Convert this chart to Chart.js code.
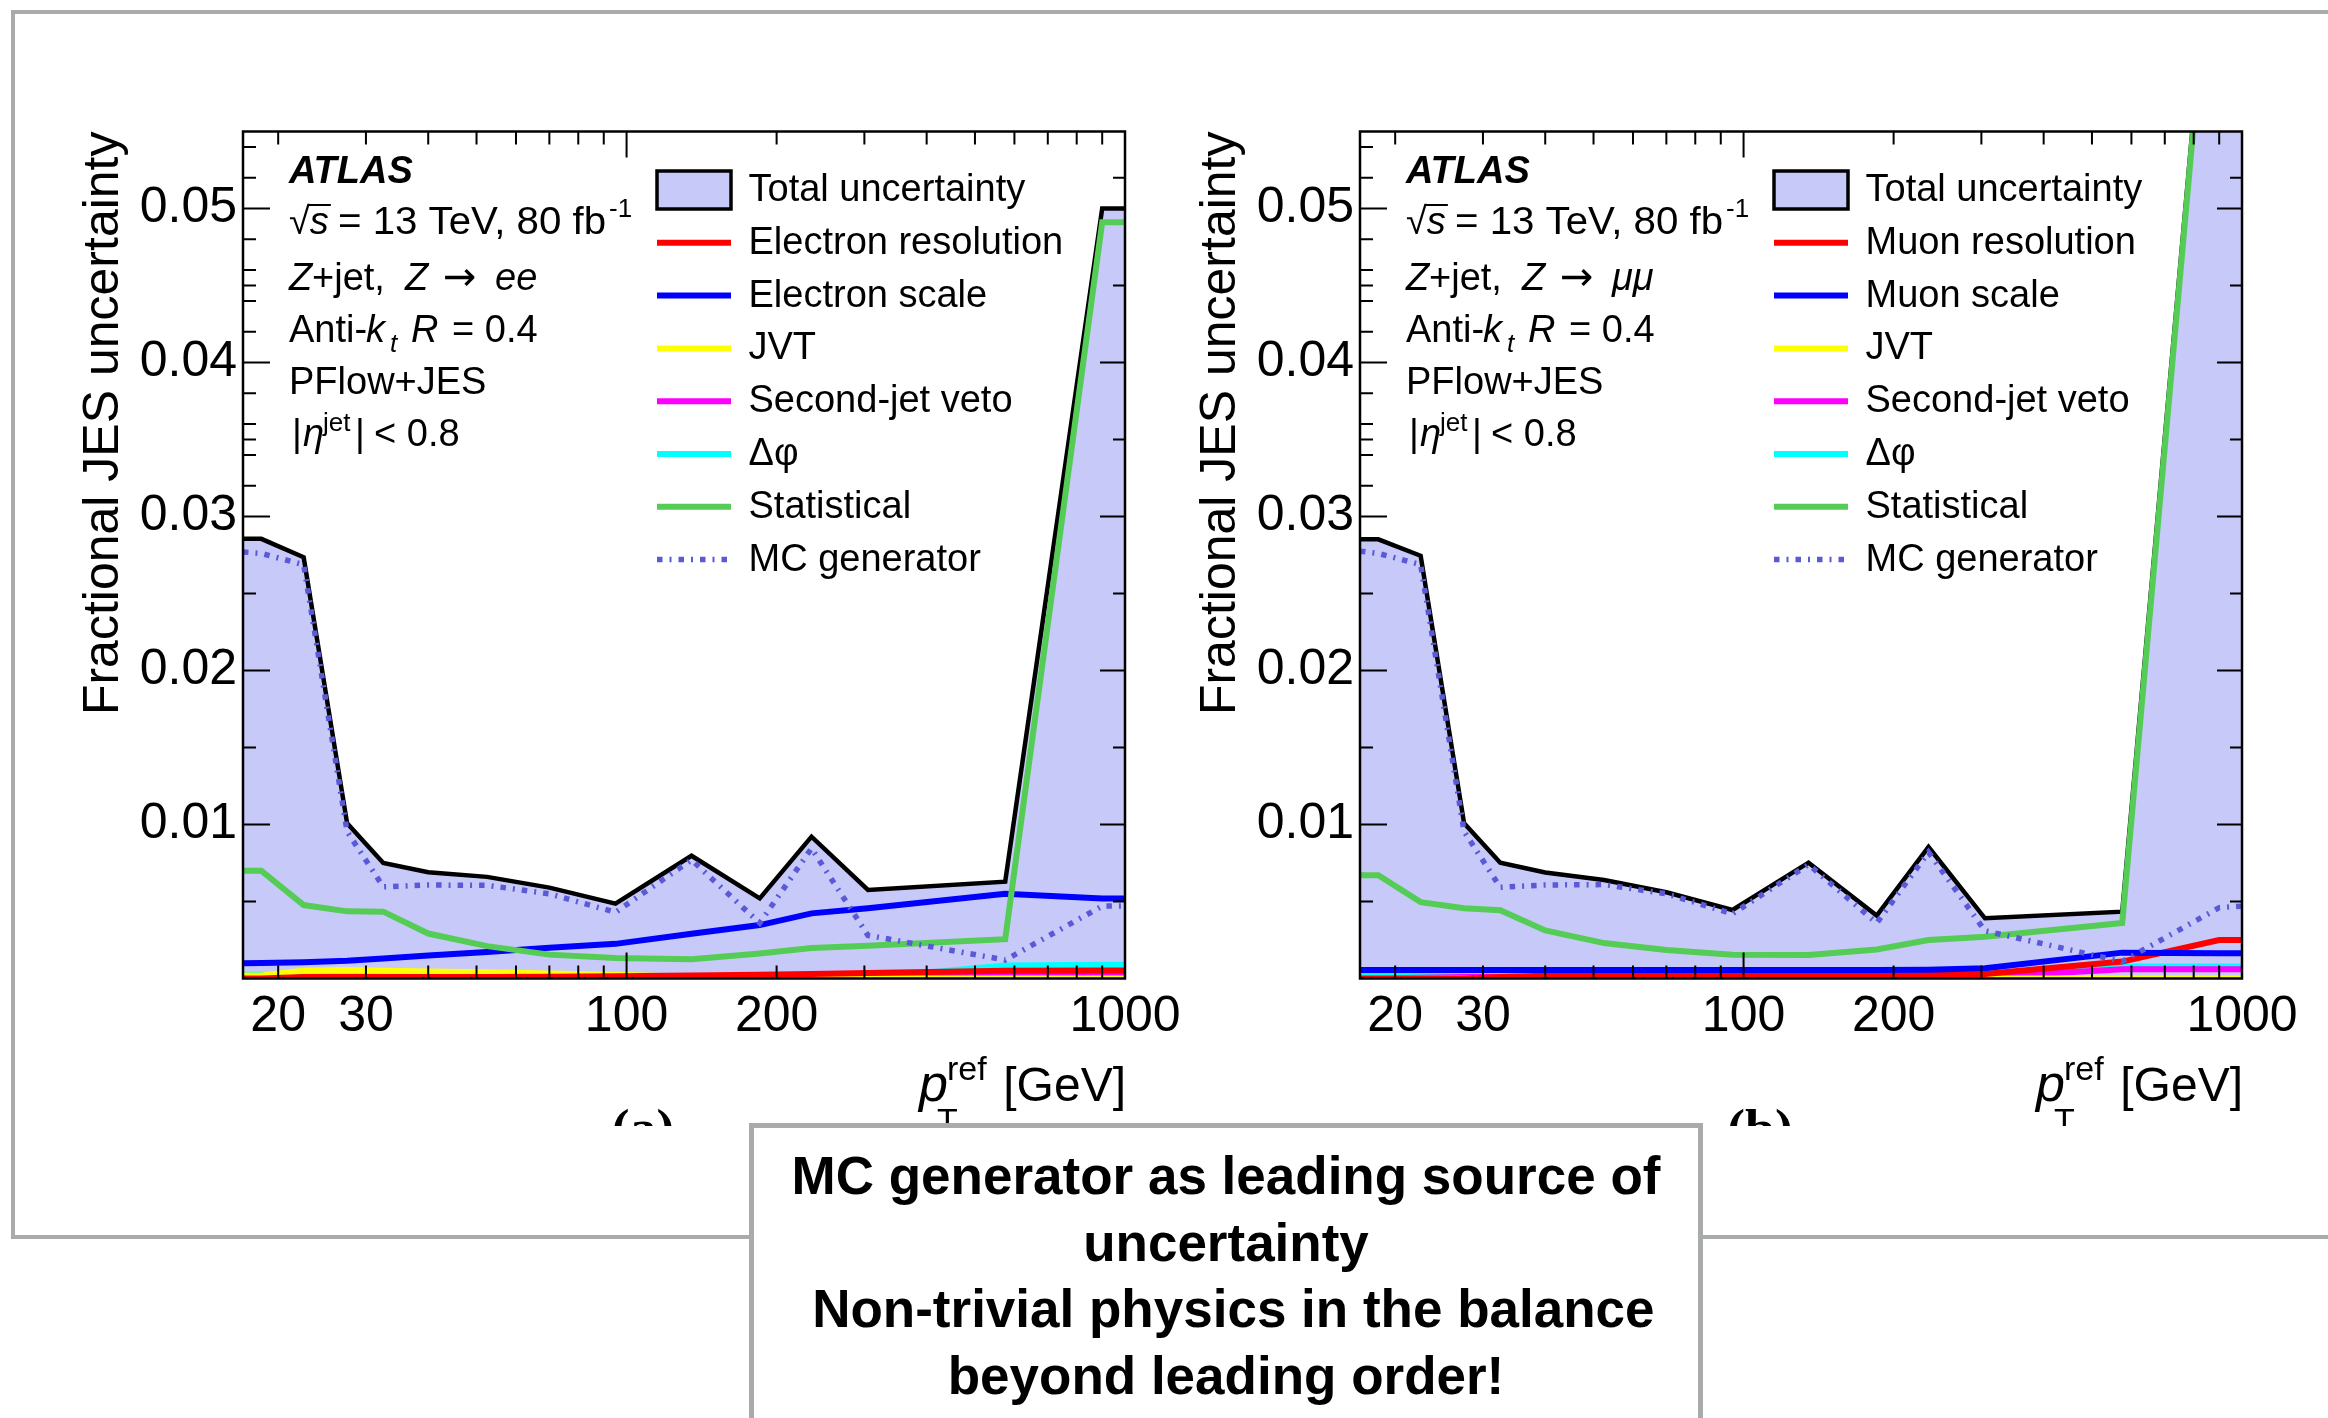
<!DOCTYPE html>
<html>
<head>
<meta charset="utf-8">
<script src="https://cdn.jsdelivr.net/npm/chart.js@4.4.1/dist/chart.umd.min.js"></script>
<style>
  body { margin: 0; width: 2328px; height: 1418px; background: #fff; position: relative; overflow: hidden;
         font-family: "Liberation Sans", Arial, sans-serif; }
  #frame { position: absolute; left: 11px; top: 10px; width: 2400px; height: 1229px;
           box-sizing: border-box; border: 4.5px solid #a9abaa; }
  canvas { position: absolute; top: 0; }
  #panelA { left: 0; }
  #panelB { left: 1117px; }
  #note { position: absolute; left: 749px; top: 1123px; width: 954px; height: 400px; box-sizing: border-box;
          border: 5px solid #a9abaa; background: #fff; text-align: center; font-weight: bold;
          font-size: 53px; line-height: 66.7px; padding-top: 15px; white-space: nowrap; color: #000; }
</style>
</head>
<body>
<div id="frame"></div>
<canvas id="panelA" width="1200" height="1126"></canvas>
<canvas id="panelB" width="1211" height="1126"></canvas>
<div id="note">MC generator as leading source of<br>uncertainty<br>&nbsp;Non-trivial physics in the balance<br>beyond leading order!</div>
<script>
// pT reference points (GeV): bin centres plus the axis edges
const ptPoints = [17, 18.5, 22.5, 27.5, 32.5, 40, 52.5, 70, 95, 135, 185, 235, 305, 575, 900, 1000];

// Z -> ee
const eeTotal      = [0.02855, 0.02855, 0.02735, 0.01008, 0.0075, 0.0069, 0.0066, 0.0059, 0.00486, 0.00797, 0.0052, 0.00921, 0.00575, 0.00629, 0.0500, 0.0500];
const eeResolution = [0, 0, 0.0001, 0.0001, 0.0001, 0.0001, 0.0001, 0.00012, 0.00015, 0.0002, 0.00025, 0.0003, 0.00035, 0.0005, 0.00052, 0.00052];
const eeScale      = [0.00099, 0.001, 0.00105, 0.00115, 0.0013, 0.0015, 0.00172, 0.002, 0.00225, 0.0029, 0.00347, 0.00423, 0.00456, 0.0055, 0.0052, 0.0052];
const eeJvt        = [0.0002, 0.0002, 0.0005, 0.00055, 0.0005, 0.00045, 0.0004, 0.00033, 0.00025, 0.00012, 0.00008, 0.00005, 0, 0, 0, 0];
const eeVeto       = [0, 0, 0, 0, 0, 0, 0, 0, 0.00005, 0.0001, 0.00012, 0.00014, 0.00015, 0.00025, 0.00025, 0.00025];
const eeDphi       = [0.00025, 0.00025, 0.0001, 0, 0, 0, 0, 0, 0, 0, 0, 0, 0.00003, 0.00085, 0.0009, 0.0009];
const eeStat       = [0.0070, 0.0070, 0.00477, 0.00436, 0.00434, 0.00292, 0.0021, 0.00155, 0.00133, 0.00125, 0.00163, 0.00198, 0.00212, 0.00255, 0.0491, 0.0491];
const eeMcGen      = [0.0277, 0.0276, 0.02687, 0.00954, 0.00595, 0.00607, 0.00605, 0.0055, 0.0043, 0.0077, 0.0036, 0.00845, 0.0028, 0.0012, 0.0047, 0.0047];

// Z -> mumu
const mmTotal      = [0.02852, 0.02852, 0.02745, 0.01008, 0.00752, 0.00688, 0.0064, 0.0056, 0.00445, 0.00752, 0.00409, 0.00854, 0.00391, 0.00434, 0.0745, 0.0745];
const mmResolution = [0, 0, 0, 0, 0.0001, 0.00018, 0.0002, 0.0002, 0.0002, 0.0002, 0.0002, 0.00022, 0.0003, 0.0011, 0.0025, 0.0025];
const mmScale      = [0.00055, 0.00055, 0.00055, 0.00055, 0.00055, 0.00055, 0.00055, 0.00055, 0.00055, 0.00055, 0.00055, 0.00057, 0.00066, 0.00168, 0.00164, 0.00164];
const mmJvt        = [0, 0, 0, 0, 0, 0, 0, 0, 0, 0, 0, 0, 0, 0, 0, 0];
const mmVeto       = [0, 0, 0.00005, 0.0001, 0.0001, 0.0001, 0.0001, 0.0001, 0.0001, 0.0001, 0.0001, 0.0001, 0.0001, 0.0006, 0.0006, 0.0006];
const mmDphi       = [0.00027, 0.00027, 0.00027, 0.00027, 0.00024, 0, 0, 0, 0, 0, 0, 0.00018, 0.0003, 0.00078, 0.00078, 0.00078];
const mmStat       = [0.0067, 0.0067, 0.00496, 0.00456, 0.00443, 0.00312, 0.0023, 0.00185, 0.00155, 0.00152, 0.00188, 0.0025, 0.00271, 0.0036, 0.0740, 0.0740];
const mmMcGen      = [0.02775, 0.0276, 0.02687, 0.00954, 0.00592, 0.00607, 0.0061, 0.0055, 0.0042, 0.0074, 0.0036, 0.0082, 0.0031, 0.0011, 0.0046, 0.0047];

const eeLabels = ['Total uncertainty', 'Electron resolution', 'Electron scale', 'JVT', 'Second-jet veto', 'Δφ', 'Statistical', 'MC generator'];
const mmLabels = ['Total uncertainty', 'Muon resolution', 'Muon scale', 'JVT', 'Second-jet veto', 'Δφ', 'Statistical', 'MC generator'];

// axis ticks
const xLabelTicks = [20, 30, 100, 200, 1000];
const xMinorTicks = [20, 30, 40, 50, 60, 70, 80, 90, 200, 300, 400, 500, 600, 700, 800, 900];
const xMajorTicks = [100];
const yLabelTicks = [0.01, 0.02, 0.03, 0.04, 0.05];
const yMinorLeft  = [0.005, 0.015, 0.025, 0.032, 0.034, 0.035, 0.036, 0.038, 0.042, 0.044, 0.045, 0.046, 0.048, 0.052, 0.054];
const yMinorRight = [0.005, 0.015, 0.025, 0.035, 0.045, 0.052];

const FILL = 'rgb(199, 201, 249)';
const FONT = '"Liberation Sans", Arial, sans-serif';

// line styles, same order as the labels; lower "order" is drawn on top
const styles = [
  { color: '#000000', width: 4.5, order: 8, fill: true },
  { color: '#ff0000', width: 6, order: 4 },
  { color: '#0000ff', width: 6, order: 3 },
  { color: '#ffff00', width: 6, order: 5 },
  { color: '#ff00ff', width: 6, order: 6 },
  { color: '#00ffff', width: 6, order: 7 },
  { color: '#55cc55', width: 6, order: 2 },
  { color: '#5a5ad8', width: 5.5, order: 1, dash: [5.5, 7, 2, 7] }
];

Chart.defaults.font.family = FONT;
Chart.defaults.color = '#000';

function buildDatasets(series, labels) {
  return series.map((vals, i) => ({
    label: labels[i],
    data: vals.map((v, k) => ({ x: ptPoints[k], y: v })),
    borderColor: styles[i].color,
    borderWidth: styles[i].width,
    borderDash: styles[i].dash || [],
    backgroundColor: styles[i].fill ? FILL : 'transparent',
    fill: styles[i].fill ? 'origin' : false,
    order: styles[i].order,
    pointRadius: 0,
    tension: 0,
    clip: 0
  }));
}

function put(ctx, text, x, y, size, style, family) {
  ctx.font = (style || '') + ' ' + size + 'px ' + (family || FONT);
  ctx.fillText(text, x, y);
  return x + ctx.measureText(text).width;
}

// text stretched horizontally so it ends at xEnd
function putFit(ctx, text, x, xEnd, y, size) {
  ctx.font = size + 'px ' + FONT;
  const w = ctx.measureText(text).width;
  ctx.save();
  ctx.translate(x, y);
  ctx.scale((xEnd - x) / w, 1);
  ctx.fillText(text, 0, 0);
  ctx.restore();
  return xEnd;
}

// ROOT-like frame with inward ticks, labels, legend and axis titles
const rootFrame = {
  id: 'rootFrame',
  afterDatasetsDraw(chart) {
    const { ctx, chartArea: a, scales: { x, y } } = chart;
    ctx.save();
    ctx.strokeStyle = '#000';
    ctx.lineWidth = 2;
    ctx.beginPath();
    const seg = (x1, y1, x2, y2) => { ctx.moveTo(x1, y1); ctx.lineTo(x2, y2); };
    xMinorTicks.forEach(v => { const p = x.getPixelForValue(v); seg(p, a.bottom, p, a.bottom - 13); seg(p, a.top, p, a.top + 13); });
    xMajorTicks.forEach(v => { const p = x.getPixelForValue(v); seg(p, a.bottom, p, a.bottom - 26); seg(p, a.top, p, a.top + 26); });
    yLabelTicks.forEach(v => { const p = y.getPixelForValue(v); seg(a.left, p, a.left + 27, p); seg(a.right, p, a.right - 25, p); });
    yMinorLeft.forEach(v => { const p = y.getPixelForValue(v); seg(a.left, p, a.left + 13, p); });
    yMinorRight.forEach(v => { const p = y.getPixelForValue(v); seg(a.right, p, a.right - 12, p); });
    ctx.stroke();
    ctx.lineWidth = 2.5;
    ctx.strokeRect(a.left, a.top, a.right - a.left, a.bottom - a.top);
    ctx.restore();
  },
  afterDraw(chart, args, opts) {
    const { ctx, chartArea: a } = chart;
    ctx.save();
    ctx.fillStyle = '#000';
    ctx.strokeStyle = '#000';
    ctx.textAlign = 'left';
    ctx.textBaseline = 'alphabetic';

    // process text
    put(ctx, 'ATLAS', 289, 183, 38, 'italic bold');
    const r = put(ctx, '√', 289, 234, 38);
    const sEnd = put(ctx, 's', r, 234, 38, 'italic');
    ctx.lineWidth = 2;
    ctx.beginPath(); ctx.moveTo(r - 1, 205); ctx.lineTo(sEnd + 2, 205); ctx.stroke();
    const fb = putFit(ctx, '= 13 TeV, 80 fb', 338, 606, 234, 38);
    put(ctx, '-1', fb + 3, 217, 26);

    put(ctx, 'Z', 289, 290, 38, 'italic');
    put(ctx, '+jet,', 312, 290, 38);
    put(ctx, 'Z', 405, 290, 38, 'italic');
    put(ctx, '→', 443, 290, 40, '', '"DejaVu Sans", sans-serif');
    put(ctx, opts.decay, 495, 290, 38, 'italic');

    put(ctx, 'Anti-', 289, 341.5, 38);
    put(ctx, 'k', 366, 341.5, 38, 'italic');
    put(ctx, 't', 390, 352, 26, 'italic');
    put(ctx, 'R', 411, 341.5, 38, 'italic');
    put(ctx, '= 0.4', 452, 341.5, 38);

    put(ctx, 'PFlow+JES', 289, 394, 38);

    put(ctx, '|', 292, 446.4, 38);
    put(ctx, 'η', 303, 446.4, 38, 'italic');
    put(ctx, 'jet', 323, 431, 26);
    put(ctx, '|', 355, 446.4, 38);
    put(ctx, '< 0.8', 374, 446.4, 38);

    // legend
    const lx0 = 657, lx1 = 731, tx = 748.5;
    chart.data.datasets.forEach((ds, i) => {
      const cy = 190 + i * 52.8;
      if (ds.fill) {
        ctx.fillStyle = ds.backgroundColor;
        ctx.fillRect(lx0, cy - 19, lx1 - lx0, 38);
        ctx.lineWidth = 3.5;
        ctx.strokeStyle = '#000';
        ctx.strokeRect(lx0, cy - 19, lx1 - lx0, 38);
      } else {
        ctx.strokeStyle = ds.borderColor;
        ctx.lineWidth = ds.borderWidth;
        ctx.setLineDash(ds.borderDash);
        ctx.beginPath(); ctx.moveTo(lx0, cy); ctx.lineTo(lx1, cy); ctx.stroke();
        ctx.setLineDash([]);
      }
      ctx.fillStyle = '#000';
      put(ctx, ds.label, tx, cy + 11, 38);
    });

    // y title, ends at the top of the frame
    ctx.save();
    ctx.translate(118, a.top);
    ctx.rotate(-Math.PI / 2);
    ctx.textAlign = 'right';
    ctx.font = '50px ' + FONT;
    ctx.fillText('Fractional JES uncertainty', 0, 0);
    ctx.restore();

    // x title
    ctx.textAlign = 'right';
    ctx.font = '48px ' + FONT;
    ctx.fillText('[GeV]', a.right + 1, 1101);
    ctx.textAlign = 'left';
    put(ctx, 'p', a.right - 206, 1101, 52, 'italic');
    put(ctx, 'ref', a.right - 178, 1080, 34);
    put(ctx, 'T', a.right - 188, 1132, 34);

    // panel tag
    ctx.textAlign = 'center';
    ctx.font = 'bold 54px "Liberation Serif", serif';
    ctx.fillText(opts.tag, 643, 1147);
    ctx.restore();
  }
};

function makePanel(id, series, labels, decay, tag, rightPad) {
  return new Chart(document.getElementById(id), {
    type: 'line',
    data: { datasets: buildDatasets(series, labels) },
    options: {
      responsive: false,
      animation: false,
      devicePixelRatio: 1,
      layout: { padding: { top: 131.5, right: rightPad, bottom: 0, left: 0 } },
      plugins: {
        legend: { display: false },
        tooltip: { enabled: false },
        rootFrame: { decay: decay, tag: tag }
      },
      scales: {
        x: {
          type: 'logarithmic', min: 17, max: 1000,
          grid: { display: false, drawTicks: false },
          border: { display: false },
          ticks: { autoSkip: false, maxRotation: 0, padding: 9, font: { size: 50 }, callback: v => String(v) },
          afterBuildTicks: s => { s.ticks = xLabelTicks.map(v => ({ value: v })); },
          afterFit: s => { s.height = 147.5; }
        },
        y: {
          type: 'linear', min: 0, max: 0.055,
          grid: { display: false, drawTicks: false },
          border: { display: false },
          ticks: { padding: 6, font: { size: 50 }, callback: v => Number(v).toFixed(2) },
          afterBuildTicks: s => { s.ticks = yLabelTicks.map(v => ({ value: v })); },
          afterFit: s => { s.width = 243; }
        }
      }
    },
    plugins: [rootFrame]
  });
}

makePanel('panelA', [eeTotal, eeResolution, eeScale, eeJvt, eeVeto, eeDphi, eeStat, eeMcGen], eeLabels, 'ee', '(a)', 75);
makePanel('panelB', [mmTotal, mmResolution, mmScale, mmJvt, mmVeto, mmDphi, mmStat, mmMcGen], mmLabels, 'μμ', '(b)', 86);
</script>
</body>
</html>
